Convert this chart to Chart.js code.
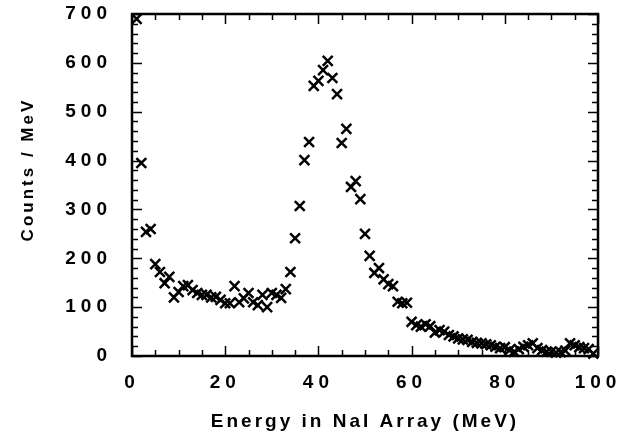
<!DOCTYPE html>
<html>
<head>
<meta charset="utf-8">
<script src="https://cdn.jsdelivr.net/npm/chart.js@4.4.1/dist/chart.umd.min.js"></script>
<style>
  html, body { margin: 0; padding: 0; background: #fff; }
  #wrap { width: 630px; height: 438px; }
</style>
</head>
<body>
<div id="wrap"><canvas id="spectrum"></canvas></div>
<script>
const energy = [
   1,  2,  3,  4,  5,  6,  7,  8,  9, 10,
  11, 12, 13, 14, 15, 16, 17, 18, 19, 20,
  21, 22, 23, 24, 25, 26, 27, 28, 29, 30,
  31, 32, 33, 34, 35, 36, 37, 38, 39, 40,
  41, 42, 43, 44, 45, 46, 47, 48, 49, 50,
  51, 52, 53, 54, 55, 56, 57, 58, 59, 60,
  61, 62, 63, 64, 65, 66, 67, 68, 69, 70,
  71, 72, 73, 74, 75, 76, 77, 78, 79, 80,
  81, 82, 83, 84, 85, 86, 87, 88, 89, 90,
  91, 92, 93, 94, 95, 96, 97, 98, 99
];
const counts = [
  690, 395, 254, 260, 188, 172, 149, 162, 120, 131,
  143, 145, 135, 129, 125, 125, 120, 121, 115, 108,
  108, 143, 110, 118, 129, 110, 104, 125, 100, 129,
  125, 119, 137, 172, 241, 307, 401, 438, 553, 563,
  585, 604, 569, 536, 436, 465, 346, 358, 321, 250,
  205, 170, 180, 157, 147, 143, 111, 108, 109,  70,
   63,  60,  65,  61,  48,  53,  50,  43,  40,  36,
   34,  33,  29,  27,  26,  24,  22,  19,  16,  18,
   12,   9,  14,  19,  22,  26,  16,  12,   9,   9,
    7,   8,  11,  26,  22,  18,  16,  14,   5
];
const xTicks = [0, 20, 40, 60, 80, 100];
const yTicks = [0, 100, 200, 300, 400, 500, 600, 700];

const points = energy.map((e, i) => ({ x: e, y: counts[i] }));
const fontFamily = "'Liberation Sans', Arial, Helvetica, sans-serif";

// letter spacing gets wiped whenever the canvas resizes, so set it each pass
const spacing = {
  id: 'spacing',
  beforeLayout(chart) { chart.ctx.letterSpacing = '3px'; },
  beforeDraw(chart) { chart.ctx.letterSpacing = '3px'; }
};

// tick numbers are spaced out a bit more than the titles
function wideLabels(s) {
  if (s._wide) return;
  const draw = s.drawLabels;
  s.drawLabels = function (area) {
    this.ctx.letterSpacing = '5px';
    draw.call(this, area);
    this.ctx.letterSpacing = '3px';
  };
  s._wide = true;
}

// boxed frame with inward ticks on all four sides
const frame = {
  id: 'frame',
  afterDraw(chart) {
    const { ctx, chartArea: a, scales: { x, y } } = chart;
    ctx.save();
    ctx.strokeStyle = '#000';
    ctx.lineWidth = 1.5;
    ctx.beginPath();
    for (let v = 0; v <= 100; v += 5) {
      const px = Math.round(x.getPixelForValue(v)) + 0.5;
      const len = v % 20 === 0 ? 10 : 6;
      ctx.moveTo(px, a.bottom); ctx.lineTo(px, a.bottom - len);
      ctx.moveTo(px, a.top); ctx.lineTo(px, a.top + len);
    }
    for (let v = 0; v <= 700; v += 20) {
      const py = Math.round(y.getPixelForValue(v)) + 0.5;
      const len = v % 100 === 0 ? 10 : 6;
      ctx.moveTo(a.left, py); ctx.lineTo(a.left + len, py);
      ctx.moveTo(a.right, py); ctx.lineTo(a.right - len, py);
    }
    ctx.stroke();
    ctx.lineWidth = 2.5;
    ctx.strokeRect(a.left, a.top, a.right - a.left, a.bottom - a.top);
    ctx.restore();
  }
};

new Chart('spectrum', {
  type: 'scatter',
  data: {
    datasets: [{
      data: points,
      pointStyle: 'crossRot',
      pointRadius: 7,
      pointBorderWidth: 2.5,
      borderColor: '#000',
      backgroundColor: '#000',
      showLine: false,
      clip: false
    }]
  },
  options: {
    responsive: true,
    maintainAspectRatio: false,
    animation: false,
    events: [],
    layout: { padding: { top: 14, right: 32, bottom: 0, left: 0 } },
    plugins: {
      legend: { display: false },
      tooltip: { enabled: false }
    },
    scales: {
      x: {
        type: 'linear',
        min: 0,
        max: 100,
        afterFit(s) { s.height = 82; s.paddingLeft = 0; s.paddingRight = 0; wideLabels(s); },
        afterBuildTicks(s) { s.ticks = xTicks.map(v => ({ value: v })); },
        grid: { display: false, drawTicks: false, tickLength: 0 },
        border: { display: false },
        ticks: {
          color: '#000',
          padding: 15,
          maxRotation: 0,
          font: { family: fontFamily, size: 19, weight: 'bold' }
        },
        title: {
          display: true,
          text: 'Energy in NaI Array (MeV)',
          color: '#000',
          padding: { top: 0, bottom: 5 },
          font: { family: fontFamily, size: 19, weight: 'bold' }
        }
      },
      y: {
        type: 'linear',
        min: 0,
        max: 700,
        afterFit(s) { s.width = 132; s.paddingTop = 0; s.paddingBottom = 0; wideLabels(s); },
        afterBuildTicks(s) { s.ticks = yTicks.map(v => ({ value: v })); },
        grid: { display: false, drawTicks: false, tickLength: 0 },
        border: { display: false },
        ticks: {
          color: '#000',
          padding: 20,
          font: { family: fontFamily, size: 19, weight: 'bold' }
        },
        title: {
          display: true,
          text: '    Counts / MeV',
          color: '#000',
          padding: { top: 18, bottom: 0 },
          font: { family: fontFamily, size: 17, weight: 'bold' }
        }
      }
    }
  },
  plugins: [spacing, frame]
});
</script>
</body>
</html>
